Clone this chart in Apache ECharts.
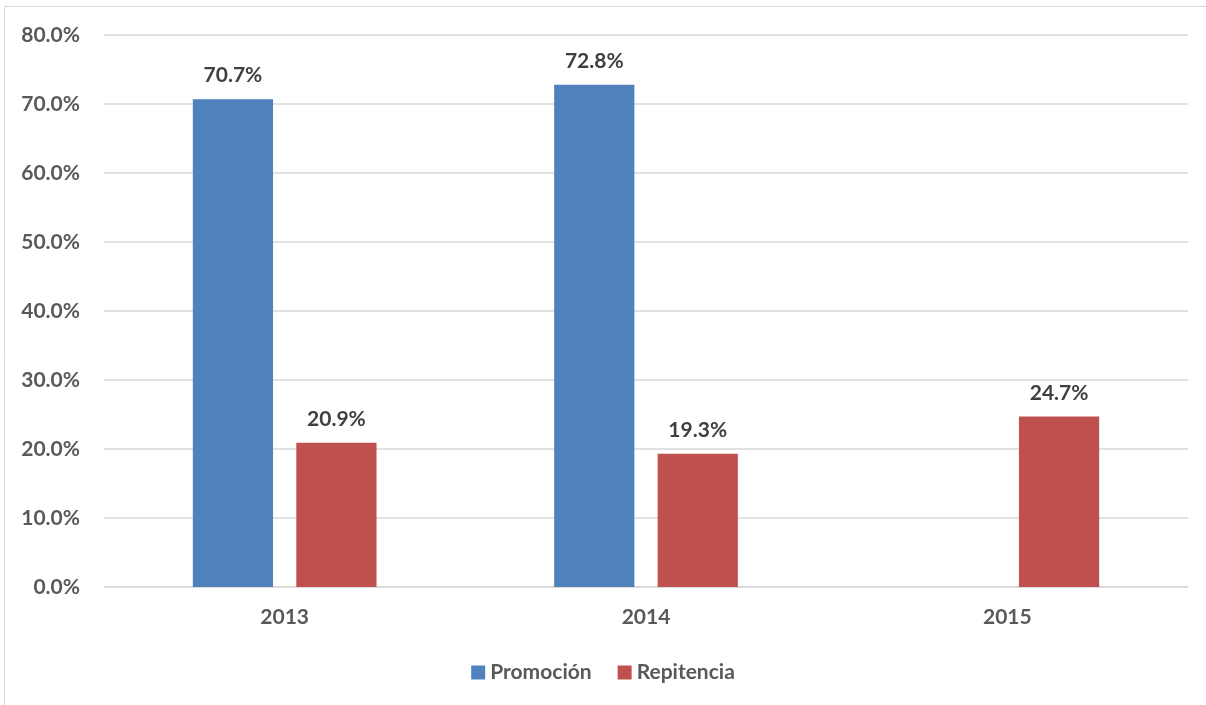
<!DOCTYPE html>
<html>
<head>
<meta charset="utf-8">
<script src="https://cdn.jsdelivr.net/npm/echarts@6/dist/echarts.min.js"></script>
<style>
html,body{margin:0;padding:0;background:#fff;}
#chart{width:1206px;height:705px;}
</style>
</head>
<body>
<div id="chart"></div>
<script>
const categories = ['2013', '2014', '2015'];
const promocion = [70.7, 72.8, null];
const repitencia = [20.9, 19.3, 24.7];
const seriesNames = ['Promoción', 'Repitencia'];
const yTicks = [0, 10, 20, 30, 40, 50, 60, 70, 80];

const FONT = 'Lato, "Open Sans", "DejaVu Sans", sans-serif';
const chart = echarts.init(document.getElementById('chart'));
const labelCfg = {
  show: true, position: 'top', distance: 13,
  fontFamily: FONT, fontWeight: 'bold', fontSize: 21, color: '#404040',
  formatter: p => p.value == null ? '' : p.value.toFixed(1) + '%'
};
chart.setOption({
  animation: false,
  graphic: [
    {type: 'line', shape: {x1: 4.5, y1: 6.5, x2: 1206, y2: 6.5}, style: {stroke: '#d9d9d9', lineWidth: 1}},
    {type: 'line', shape: {x1: 4.5, y1: 6.5, x2: 4.5, y2: 705}, style: {stroke: '#d9d9d9', lineWidth: 1}}
  ],
  grid: {left: 104, right: 18, top: 35, bottom: 118, containLabel: false},
  legend: {
    data: seriesNames, bottom: 17, left: 'center', itemWidth: 14, itemHeight: 14, itemGap: 26,
    icon: 'rect',
    textStyle: {fontFamily: FONT, fontWeight: 'bold', fontSize: 21, color: '#595959'}
  },
  xAxis: {
    type: 'category', data: categories,
    axisLine: {lineStyle: {color: '#d9d9d9', width: 1.5}},
    axisTick: {show: false},
    axisLabel: {fontFamily: FONT, fontWeight: 'bold', fontSize: 21, color: '#595959', margin: 20}
  },
  yAxis: {
    type: 'value', min: yTicks[0], max: yTicks[yTicks.length - 1], interval: 10,
    axisLine: {show: false}, axisTick: {show: false},
    splitLine: {lineStyle: {color: '#d9d9d9', width: 1.5}},
    axisLabel: {fontFamily: FONT, fontWeight: 'bold', fontSize: 21, color: '#595959', margin: 24,
      formatter: v => v.toFixed(1) + '%'}
  },
  series: [
    {name: seriesNames[0], type: 'bar', data: promocion, barWidth: '22.2%', barGap: '29%',
      itemStyle: {color: '#4f81bd'}, label: labelCfg},
    {name: seriesNames[1], type: 'bar', data: repitencia, barWidth: '22.2%', barGap: '29%',
      itemStyle: {color: '#c0504d'}, label: labelCfg}
  ]
});
</script>
</body>
</html>
